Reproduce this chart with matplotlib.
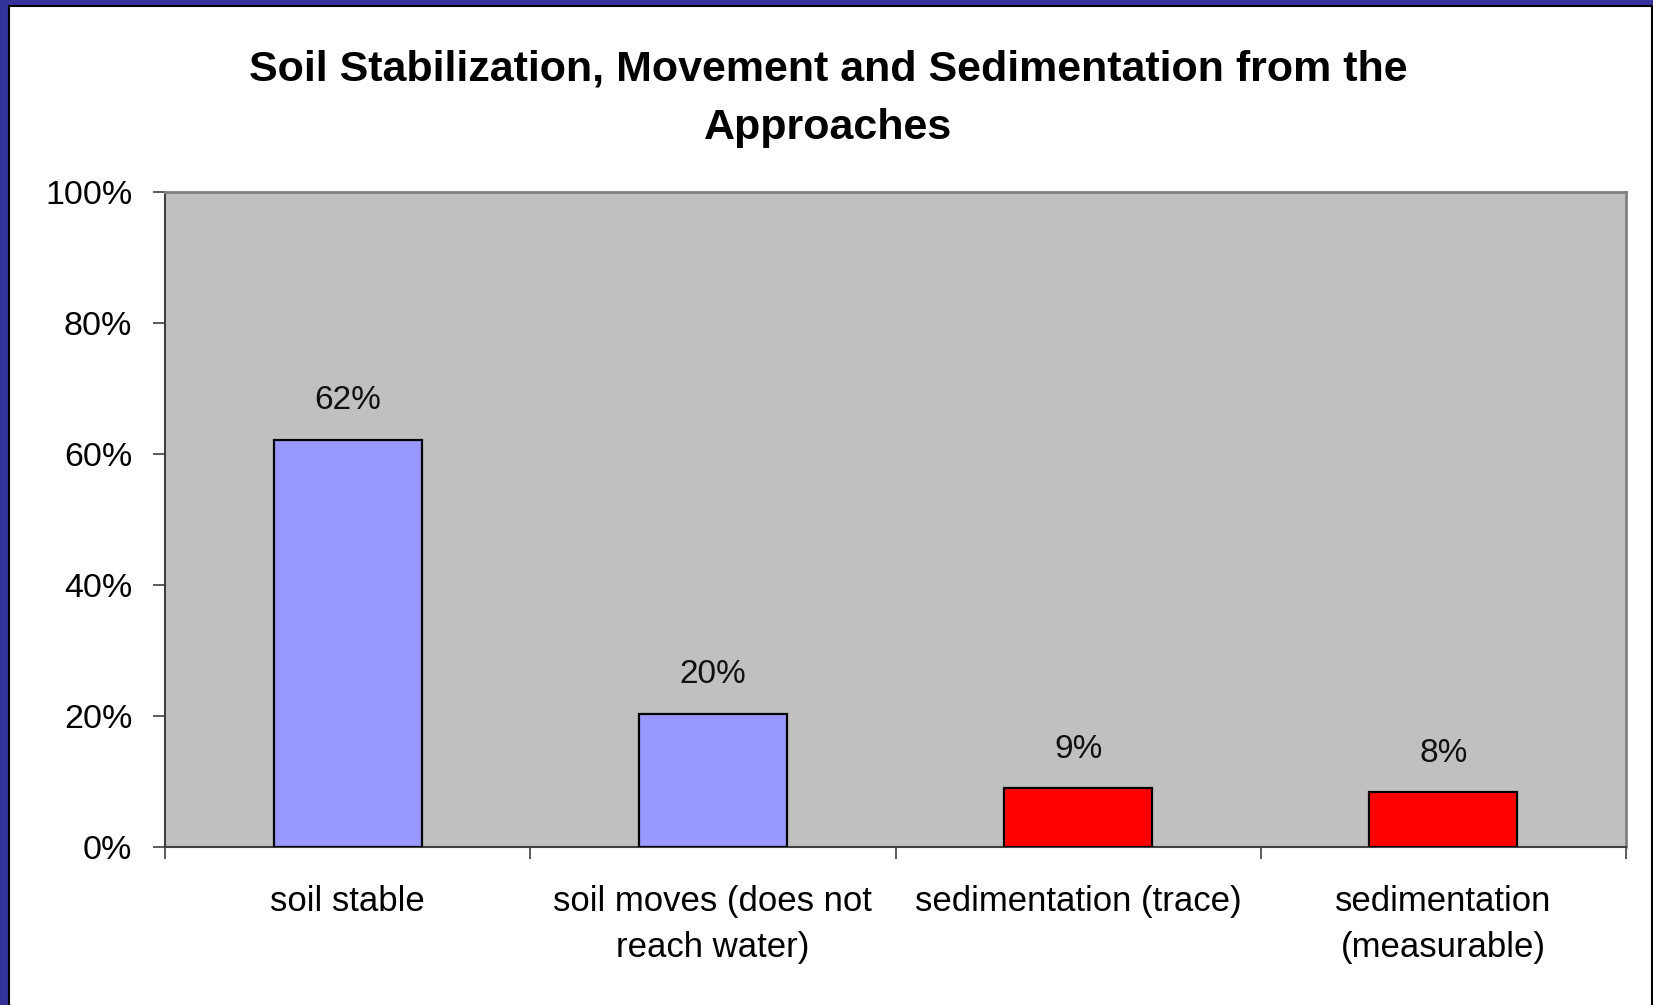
import matplotlib
matplotlib.use("Agg")
import matplotlib.pyplot as plt
from matplotlib.patches import Rectangle
import numpy as np

plt.rcParams['font.family'] = ['Liberation Sans', 'DejaVu Sans']

# 数据
categories = ["soil stable", "soil moves (does not\nreach water)",
              "sedimentation (trace)", "sedimentation\n(measurable)"]
values = [62.2, 20.4, 9.0, 8.4]
bar_colors = ["#9999FF", "#9999FF", "#FF0000", "#FF0000"]
y_ticks = [0, 20, 40, 60, 80, 100]
title = "Soil Stabilization, Movement and Sedimentation from the\nApproaches"

fig = plt.figure(figsize=(16.53, 10.05), dpi=100)
fig.patch.set_facecolor("white")

# 外框 (蓝色边条 + 黑线)
fig.patches.append(Rectangle((0, 0), 8 / 1653, 1, transform=fig.transFigure,
                             facecolor="#333399", edgecolor="none", zorder=0))
fig.patches.append(Rectangle((0, 1 - 6 / 1005), 1, 6 / 1005, transform=fig.transFigure,
                             facecolor="#333399", edgecolor="none", zorder=0))
fig.add_artist(plt.Line2D([8.5 / 1653, 8.5 / 1653], [0, 1 - 6 / 1005],
                          transform=fig.transFigure, color="black", lw=1.5))
fig.add_artist(plt.Line2D([8.5 / 1653, 1], [1 - 6.5 / 1005, 1 - 6.5 / 1005],
                          transform=fig.transFigure, color="black", lw=1.5))
fig.add_artist(plt.Line2D([1 - 1 / 1653, 1 - 1 / 1653], [0, 1 - 6 / 1005],
                          transform=fig.transFigure, color="black", lw=1.5))

ax = fig.add_axes([0.0998, 0.157, 0.9837 - 0.0998, 0.809 - 0.157])
ax.set_facecolor("#C0C0C0")

x = np.arange(len(categories))
bars = ax.bar(x, values, width=0.405, color=bar_colors, edgecolor="black",
              linewidth=1.6, zorder=3)

for b, v in zip(bars, values):
    ax.annotate(f"{v:.0f}%", (b.get_x() + b.get_width() / 2, v),
                xytext=(0, 17), textcoords="offset points",
                ha="center", va="bottom", fontsize=24, color="#111111")

ax.set_xlim(-0.5, len(categories) - 0.5)
ax.set_ylim(0, 100)
ax.set_yticks(y_ticks)
ax.set_yticklabels([f"{t}%" for t in y_ticks])
ax.set_xticks(x)
ax.set_xticklabels(categories, fontsize=25, linespacing=1.5)
ax.set_xticks(np.arange(-0.5, len(categories), 1.0), minor=True)

ax.tick_params(axis="y", direction="out", length=8.5, width=1.2, color="#404040",
               pad=15, labelsize=24.5)
ax.tick_params(axis="x", which="major", length=0, pad=27)
ax.tick_params(axis="x", which="minor", direction="out", length=8.5, width=1.2,
               color="#404040")

for side in ["top", "right"]:
    ax.spines[side].set_color("#808080")
    ax.spines[side].set_linewidth(2)
ax.spines["left"].set_color("#404040")
ax.spines["bottom"].set_color("#404040")
ax.spines["left"].set_linewidth(1.5)
ax.spines["bottom"].set_linewidth(1.5)

fig.text(0.501, 0.902, title, ha="center", va="center", fontsize=31,
         fontweight="bold", linespacing=1.6)

fig.savefig("out.png", dpi=100)
